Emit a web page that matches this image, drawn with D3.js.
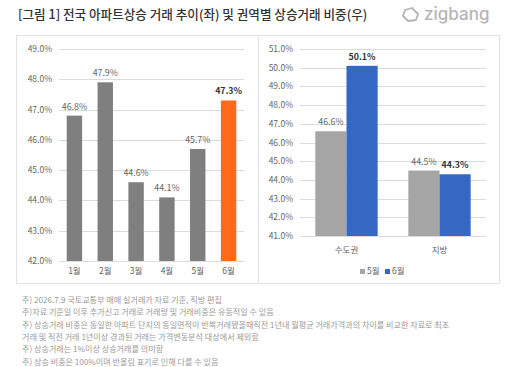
<!DOCTYPE html>
<html>
<head>
<meta charset="utf-8">
<script src="https://cdn.jsdelivr.net/npm/d3@7"></script>
<style>
  body { margin: 0; background: #fff; }
  svg { display: block; font-family: "Noto Sans CJK KR", "Noto Sans", sans-serif; }
</style>
</head>
<body>
<div id="chart"></div>
<script>

// left: monthly share of rising trades (nationwide)
const months = ["1월", "2월", "3월", "4월", "5월", "6월"]
const monthValues = [46.8, 47.9, 44.6, 44.1, 45.7, 47.3]
const leftTicks = [42, 43, 44, 45, 46, 47, 48, 49]

// right: share by region, May vs June
const regions = ["수도권", "지방"]
const seriesNames = ["5월", "6월"]
const mayValues = [46.6, 44.5]
const junValues = [50.1, 44.3]
const rightTicks = [41, 42, 43, 44, 45, 46, 47, 48, 49, 50, 51]

const notes = [
	"주) 2026.7.9 국토교통부 매매 실거래가 자료 기준, 직방 편집",
	"주)자료 기준일 이후 추가신고 거래로 거래량 및 거래비중은 유동적일 수 있음",
	"주) 상승거래 비중은 동일한 아파트 단지의 동일면적이 반복거래됐을때직전 1년내 월평균 거래가격과의 차이를 비교한 자료로 최초",
	"거래 및 직전 거래 1년이상 경과된 거래는 가격변동분석 대상에서 제외함",
	"주) 상승거래는 1%이상 상승거래를 의미함",
	"주) 상승 비중은 100%이며 반올림 표기로 인해 다를 수 있음"
]

const W = 518, H = 367
const svg = d3.select("#chart").append("svg")
	.attr("width", W)
	.attr("height", H)

// title + logo
svg.append("text")
	.attr("x", 18).attr("y", 19)
	.attr("font-size", 12.6).attr("font-weight", 500)
	.attr("fill", "#333")
	.text("[그림 1] 전국 아파트상승 거래 추이(좌) 및 권역별 상승거래 비중(우)")

const logo = svg.append("g").attr("transform", "translate(403,15)")
logo.append("path")
	.attr("d", "M2,-5 L9,-7 L15,-1 L13,5 L5,6 L0,1 Z")
	.attr("fill", "none").attr("stroke", "#b5b5b5").attr("stroke-width", 1.8)
	.attr("stroke-linejoin", "round")
logo.append("text")
	.attr("x", 21).attr("y", 5)
	.attr("font-family", "Inter, 'Noto Sans', sans-serif")
	.attr("font-size", 17).attr("font-weight", 500)
	.attr("fill", "#b5b5b5")
	.text("zigbang")

// panel frames
svg.append("rect")
	.attr("x", 16.5).attr("y", 35.5).attr("width", 483).attr("height", 248)
	.attr("fill", "none").attr("stroke", "#e3e3e3")
svg.append("line")
	.attr("x1", 258.5).attr("x2", 258.5).attr("y1", 35.5).attr("y2", 283.5)
	.attr("stroke", "#e3e3e3")

const tickFmt = d => d.toFixed(1) + "%"

// ---------- left chart ----------
const yL = d3.scaleLinear().domain([42, 49]).range([261, 49])
const xL = d3.scaleBand().domain(months).range([59, 244]).paddingInner(0.5).paddingOuter(0.25)

const gL = svg.append("g")
gL.selectAll("line.grid").data(leftTicks).enter().append("line")
	.attr("x1", 59).attr("x2", 244)
	.attr("y1", d => Math.round(yL(d)) + 0.5).attr("y2", d => Math.round(yL(d)) + 0.5)
	.attr("stroke", "#dcdcdc")
gL.selectAll("text.tick").data(leftTicks).enter().append("text")
	.attr("x", 52).attr("y", d => yL(d) + 3)
	.attr("text-anchor", "end").attr("font-size", 8.5).attr("fill", "#666")
	.text(tickFmt)

gL.selectAll("rect.bar").data(months).enter().append("rect")
	.attr("x", d => xL(d)).attr("width", xL.bandwidth())
	.attr("y", (d, i) => yL(monthValues[i]))
	.attr("height", (d, i) => yL(42) - yL(monthValues[i]))
	.attr("fill", (d, i) => i === months.length - 1 ? "#ff6a1a" : "#7f7f7f")

gL.selectAll("text.val").data(months).enter().append("text")
	.attr("x", d => xL(d) + xL.bandwidth() / 2)
	.attr("y", (d, i) => yL(monthValues[i]) - 6)
	.attr("text-anchor", "middle").attr("font-size", 8.8)
	.attr("font-weight", (d, i) => i === months.length - 1 ? "bold" : "normal")
	.attr("fill", (d, i) => i === months.length - 1 ? "#333" : "#666")
	.text((d, i) => monthValues[i].toFixed(1) + "%")

gL.selectAll("text.cat").data(months).enter().append("text")
	.attr("x", d => xL(d) + xL.bandwidth() / 2).attr("y", 274)
	.attr("text-anchor", "middle").attr("font-size", 8.5).attr("fill", "#666")
	.text(d => d)

// ---------- right chart ----------
const yR = d3.scaleLinear().domain([41, 51]).range([236, 49])
const x0 = d3.scaleBand().domain(regions).range([300, 486]).paddingInner(0.33).paddingOuter(0.165)
const x1 = d3.scaleBand().domain(seriesNames).range([0, x0.bandwidth()])
const colors = { "5월": "#a5a5a5", "6월": "#3568c2" }

const gR = svg.append("g")
gR.selectAll("line.grid").data(rightTicks).enter().append("line")
	.attr("x1", 300).attr("x2", 486)
	.attr("y1", d => Math.round(yR(d)) + 0.5).attr("y2", d => Math.round(yR(d)) + 0.5)
	.attr("stroke", "#dcdcdc")
gR.selectAll("text.tick").data(rightTicks).enter().append("text")
	.attr("x", 293).attr("y", d => yR(d) + 3)
	.attr("text-anchor", "end").attr("font-size", 8.5).attr("fill", "#666")
	.text(tickFmt)

const rows = []
regions.forEach((r, i) => {
	rows.push({ region: r, series: "5월", value: mayValues[i] })
	rows.push({ region: r, series: "6월", value: junValues[i] })
})

gR.selectAll("rect.bar").data(rows).enter().append("rect")
	.attr("x", d => x0(d.region) + x1(d.series)).attr("width", x1.bandwidth())
	.attr("y", d => yR(d.value)).attr("height", d => yR(41) - yR(d.value))
	.attr("fill", d => colors[d.series])

gR.selectAll("text.val").data(rows).enter().append("text")
	.attr("x", d => x0(d.region) + x1(d.series) + x1.bandwidth() / 2)
	.attr("y", d => yR(d.value) - 6)
	.attr("text-anchor", "middle").attr("font-size", 8.8)
	.attr("font-weight", d => d.series === "6월" ? "bold" : "normal")
	.attr("fill", d => d.series === "6월" ? "#333" : "#666")
	.text(d => d.value.toFixed(1) + "%")

gR.selectAll("text.cat").data(regions).enter().append("text")
	.attr("x", d => x0(d) + x0.bandwidth() / 2).attr("y", 253)
	.attr("text-anchor", "middle").attr("font-size", 8.5).attr("fill", "#666")
	.text(d => d)

// legend
const leg = gR.append("g").attr("transform", "translate(360,274)")
seriesNames.forEach((s, i) => {
	const g = leg.append("g").attr("transform", "translate(" + (i * 25) + ",0)")
	g.append("rect").attr("x", 0).attr("y", -5).attr("width", 5).attr("height", 5).attr("fill", colors[s])
	g.append("text").attr("x", 7).attr("y", 0).attr("font-size", 8.5).attr("fill", "#666").text(s)
})

// footnotes
svg.selectAll("text.note").data(notes).enter().append("text")
	.attr("x", 22).attr("y", (d, i) => 303 + i * 12.3)
	.attr("font-size", 8.1).attr("fill", "#999")
	.text(d => d)

</script>
</body>
</html>
